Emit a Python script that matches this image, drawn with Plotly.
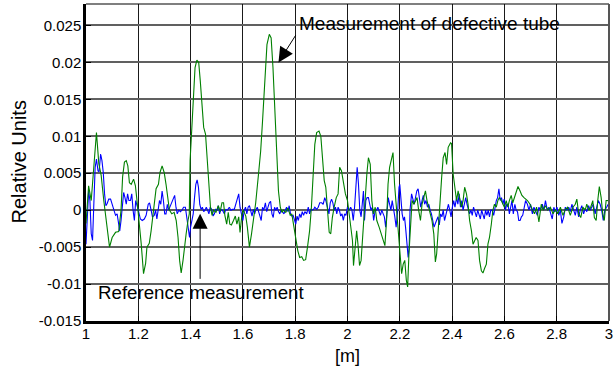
import plotly.graph_objects as go

# ---------------- data ----------------
defect_x = [1.000, 1.010, 1.020, 1.030, 1.040, 1.049, 1.058, 1.068, 1.079, 1.090, 1.100, 1.113, 1.125, 1.134,
            1.140, 1.147, 1.154, 1.160, 1.166, 1.173, 1.182, 1.189, 1.195, 1.204, 1.211, 1.220, 1.228, 1.233,
            1.242, 1.249, 1.258, 1.268, 1.277, 1.283, 1.291, 1.299, 1.306, 1.312, 1.319, 1.328, 1.337, 1.345,
            1.352, 1.358, 1.364, 1.371, 1.377, 1.383, 1.390, 1.395, 1.398, 1.405, 1.411, 1.417, 1.424, 1.431,
            1.437, 1.444, 1.450, 1.457, 1.463, 1.469, 1.476, 1.482, 1.488, 1.497, 1.506, 1.513, 1.520, 1.526,
            1.531, 1.538, 1.544, 1.550, 1.556, 1.564, 1.571, 1.577, 1.584, 1.589, 1.596, 1.602, 1.611, 1.617,
            1.625, 1.633, 1.640, 1.649, 1.660, 1.668, 1.675, 1.683, 1.692, 1.701, 1.708, 1.715, 1.724, 1.730,
            1.736, 1.743, 1.749, 1.755, 1.764, 1.772, 1.781, 1.787, 1.793, 1.802, 1.810, 1.817, 1.825, 1.832,
            1.840, 1.847, 1.855, 1.862, 1.869, 1.875, 1.882, 1.891, 1.898, 1.904, 1.911, 1.917, 1.923, 1.930,
            1.936, 1.942, 1.949, 1.957, 1.964, 1.970, 1.977, 1.983, 1.992, 2.000, 2.007, 2.013, 2.019, 2.023,
            2.030, 2.035, 2.040, 2.046, 2.052, 2.060, 2.068, 2.074, 2.080, 2.087, 2.093, 2.099, 2.106, 2.112,
            2.121, 2.128, 2.136, 2.143, 2.150, 2.155, 2.161, 2.168, 2.174, 2.180, 2.187, 2.193, 2.200, 2.207,
            2.213, 2.219, 2.225, 2.230, 2.235, 2.241, 2.247, 2.254, 2.260, 2.266, 2.272, 2.279, 2.285, 2.292,
            2.298, 2.304, 2.310, 2.317, 2.323, 2.330, 2.336, 2.341, 2.347, 2.354, 2.360, 2.366, 2.373, 2.379,
            2.385, 2.394, 2.398, 2.404, 2.410, 2.417, 2.423, 2.429, 2.436, 2.442, 2.448, 2.455, 2.461, 2.467,
            2.474, 2.480, 2.486, 2.492, 2.499, 2.505, 2.512, 2.518, 2.524, 2.531, 2.537, 2.543, 2.550, 2.556,
            2.562, 2.569, 2.575, 2.581, 2.588, 2.594, 2.600, 2.607, 2.613, 2.619, 2.626, 2.632, 2.638, 2.645,
            2.652, 2.660, 2.667, 2.675, 2.688, 2.698, 2.707, 2.715, 2.723, 2.732, 2.741, 2.748, 2.757, 2.766,
            2.776, 2.786, 2.795, 2.804, 2.814, 2.824, 2.833, 2.842, 2.852, 2.862, 2.871, 2.877, 2.884, 2.892,
            2.900, 2.909, 2.915, 2.923, 2.930, 2.938, 2.944, 2.951, 2.957, 2.963, 2.970, 2.976, 2.982, 2.989,
            2.997, 3.000]
defect_y = [-0.0018, 0.0033, 0.0013, 0.0058, 0.0105, 0.0063, 0.0047, 0.0013, -0.0018, -0.0050, -0.0037, -0.0030, -0.0029, 0.0000,
            0.0045, 0.0065, 0.0067, 0.0060, 0.0037, 0.0035, 0.0042, 0.0033, 0.0013, -0.0018, -0.0045, -0.0086, -0.0072, -0.0050,
            -0.0045, -0.0028, 0.0000, 0.0029, 0.0035, 0.0051, 0.0060, 0.0051, 0.0035, 0.0017, 0.0000, -0.0005, -0.0003, -0.0014,
            -0.0037, -0.0068, -0.0085, -0.0068, -0.0045, -0.0032, -0.0014, -0.0005, 0.0067, 0.0121, 0.0166, 0.0193, 0.0203, 0.0200,
            0.0175, 0.0143, 0.0112, 0.0103, 0.0067, 0.0035, 0.0004, -0.0007, 0.0000, -0.0003, 0.0006, -0.0002, 0.0010, 0.0010,
            -0.0007, -0.0019, -0.0003, -0.0019, -0.0020, -0.0014, -0.0008, -0.0019, -0.0009, -0.0030, -0.0007, 0.0000, -0.0008, -0.0023,
            -0.0050, -0.0032, -0.0014, 0.0010, 0.0050, 0.0080, 0.0120, 0.0170, 0.0224, 0.0238, 0.0233, 0.0193, 0.0116, 0.0067,
            0.0026, 0.0004, -0.0003, 0.0000, -0.0003, 0.0003, -0.0007, -0.0005, -0.0019, -0.0037, -0.0055, -0.0064, -0.0063, -0.0068,
            -0.0067, -0.0050, -0.0028, 0.0004, 0.0053, 0.0089, 0.0105, 0.0107, 0.0100, 0.0067, 0.0040, 0.0031, 0.0004, -0.0030,
            -0.0032, -0.0010, 0.0004, 0.0017, 0.0022, 0.0058, 0.0053, 0.0040, 0.0022, 0.0013, -0.0010, -0.0023, -0.0041, -0.0075,
            -0.0050, -0.0028, -0.0046, -0.0075, -0.0068, -0.0023, 0.0022, 0.0049, 0.0071, 0.0062, 0.0013, -0.0005, 0.0004, -0.0014,
            -0.0023, -0.0030, -0.0041, -0.0048, -0.0010, 0.0035, 0.0058, 0.0067, 0.0078, 0.0035, 0.0004, -0.0023, -0.0050, -0.0086,
            -0.0073, -0.0068, -0.0095, -0.0104, -0.0059, -0.0014, 0.0013, 0.0008, 0.0013, 0.0017, 0.0000, -0.0014, 0.0008, 0.0017,
            0.0026, 0.0013, 0.0004, -0.0005, -0.0014, -0.0032, -0.0070, -0.0059, -0.0023, 0.0013, 0.0044, 0.0071, 0.0078, 0.0062,
            0.0085, 0.0091, 0.0090, 0.0049, 0.0031, 0.0013, 0.0026, 0.0013, 0.0004, 0.0013, 0.0031, 0.0022, 0.0008, -0.0014,
            -0.0028, -0.0046, -0.0041, -0.0037, -0.0041, -0.0068, -0.0082, -0.0085, -0.0079, -0.0073, -0.0046, -0.0037, -0.0019, 0.0000,
            0.0008, 0.0004, 0.0013, 0.0017, 0.0013, 0.0008, 0.0004, 0.0013, 0.0004, 0.0013, 0.0020, 0.0010, 0.0017, 0.0026,
            0.0032, 0.0026, 0.0020, 0.0017, 0.0013, 0.0008, 0.0000, -0.0005, 0.0004, -0.0016, 0.0008, 0.0000, 0.0006, 0.0000,
            0.0004, -0.0005, 0.0001, -0.0005, 0.0004, -0.0007, 0.0001, 0.0004, -0.0007, 0.0004, 0.0008, 0.0015, -0.0005, -0.0010,
            0.0004, 0.0000, 0.0008, 0.0000, 0.0004, 0.0013, -0.0010, -0.0014, 0.0013, 0.0032, 0.0017, -0.0005, -0.0014, 0.0013,
            0.0013, 0.0008]

ref_x = [1.000, 1.005, 1.010, 1.015, 1.020, 1.025, 1.030, 1.035, 1.040, 1.046, 1.050, 1.056, 1.061, 1.066, 1.071, 1.076,
         1.081, 1.087, 1.094, 1.100, 1.106, 1.113, 1.119, 1.123, 1.129, 1.134, 1.139, 1.144, 1.149, 1.154, 1.159, 1.164,
         1.170, 1.175, 1.180, 1.185, 1.190, 1.195, 1.200, 1.208, 1.215, 1.223, 1.230, 1.238, 1.243, 1.249, 1.254, 1.261,
         1.266, 1.271, 1.276, 1.281, 1.286, 1.291, 1.296, 1.301, 1.306, 1.311, 1.316, 1.321, 1.326, 1.333, 1.339, 1.344,
         1.349, 1.355, 1.361, 1.367, 1.373, 1.380, 1.384, 1.390, 1.396, 1.400, 1.405, 1.410, 1.415, 1.420, 1.425, 1.430,
         1.435, 1.440, 1.445, 1.450, 1.455, 1.460, 1.465, 1.470, 1.475, 1.481, 1.486, 1.491, 1.496, 1.501, 1.506, 1.511,
         1.516, 1.522, 1.529, 1.535, 1.541, 1.548, 1.554, 1.560, 1.567, 1.573, 1.579, 1.584, 1.589, 1.594, 1.600, 1.605,
         1.610, 1.615, 1.620, 1.625, 1.630, 1.635, 1.640, 1.645, 1.650, 1.655, 1.660, 1.665, 1.670, 1.675, 1.680, 1.686,
         1.691, 1.696, 1.701, 1.706, 1.711, 1.716, 1.721, 1.726, 1.731, 1.736, 1.741, 1.746, 1.751, 1.757, 1.762, 1.767,
         1.772, 1.777, 1.782, 1.787, 1.792, 1.797, 1.802, 1.807, 1.812, 1.817, 1.822, 1.827, 1.832, 1.837, 1.844, 1.850,
         1.855, 1.860, 1.865, 1.870, 1.875, 1.882, 1.888, 1.894, 1.901, 1.907, 1.913, 1.918, 1.923, 1.929, 1.934, 1.939,
         1.944, 1.949, 1.954, 1.959, 1.964, 1.969, 1.974, 1.979, 1.984, 1.989, 1.994, 2.000, 2.006, 2.012, 2.017, 2.022,
         2.027, 2.032, 2.037, 2.042, 2.047, 2.052, 2.057, 2.061, 2.065, 2.070, 2.075, 2.080, 2.085, 2.090, 2.095, 2.100,
         2.106, 2.111, 2.116, 2.121, 2.126, 2.131, 2.136, 2.141, 2.146, 2.151, 2.156, 2.161, 2.166, 2.171, 2.176, 2.181,
         2.186, 2.192, 2.197, 2.200, 2.204, 2.209, 2.214, 2.218, 2.222, 2.227, 2.232, 2.236, 2.239, 2.245, 2.250, 2.255,
         2.260, 2.265, 2.270, 2.275, 2.280, 2.285, 2.290, 2.295, 2.300, 2.306, 2.311, 2.316, 2.321, 2.326, 2.331, 2.336,
         2.341, 2.346, 2.351, 2.356, 2.361, 2.366, 2.371, 2.376, 2.381, 2.386, 2.391, 2.396, 2.401, 2.406, 2.411, 2.417,
         2.422, 2.427, 2.432, 2.437, 2.442, 2.447, 2.452, 2.457, 2.462, 2.467, 2.472, 2.477, 2.482, 2.488, 2.493, 2.498,
         2.503, 2.508, 2.513, 2.518, 2.523, 2.528, 2.533, 2.538, 2.543, 2.548, 2.553, 2.559, 2.564, 2.569, 2.574, 2.579,
         2.584, 2.589, 2.594, 2.599, 2.604, 2.609, 2.614, 2.619, 2.624, 2.629, 2.634, 2.640, 2.645, 2.650, 2.655, 2.660,
         2.665, 2.670, 2.675, 2.681, 2.688, 2.694, 2.700, 2.707, 2.713, 2.719, 2.726, 2.732, 2.738, 2.745, 2.751, 2.757,
         2.764, 2.770, 2.776, 2.783, 2.789, 2.795, 2.801, 2.808, 2.814, 2.820, 2.827, 2.833, 2.839, 2.846, 2.852, 2.858,
         2.865, 2.871, 2.877, 2.884, 2.890, 2.896, 2.903, 2.909, 2.915, 2.922, 2.928, 2.934, 2.940, 2.947, 2.953, 2.959,
         2.966, 2.972, 2.978, 2.984, 2.991, 2.997, 3.000]
ref_y = [-0.0046, -0.0010, 0.0026, 0.0013, -0.0032, -0.0041, 0.0013, 0.0058, 0.0069, 0.0053, 0.0052, 0.0076, 0.0067, 0.0051, 0.0022, 0.0006,
         0.0009, 0.0015, 0.0015, 0.0008, 0.0000, -0.0007, -0.0005, -0.0014, -0.0028, -0.0014, 0.0008, 0.0024, 0.0017, 0.0008, 0.0022, 0.0013,
         0.0013, 0.0022, 0.0000, -0.0014, 0.0013, 0.0008, 0.0000, -0.0012, -0.0014, -0.0012, -0.0007, 0.0008, 0.0010, 0.0000, -0.0009, -0.0007,
         0.0000, -0.0012, 0.0004, 0.0013, 0.0008, 0.0026, 0.0013, -0.0005, -0.0005, 0.0008, 0.0000, 0.0004, 0.0010, 0.0015, 0.0020, 0.0004,
         -0.0005, 0.0000, -0.0002, 0.0000, 0.0004, 0.0004, -0.0005, -0.0023, -0.0037, -0.0023, -0.0014, -0.0005, 0.0017, 0.0035, 0.0041, 0.0031,
         0.0008, 0.0001, 0.0004, -0.0002, 0.0000, 0.0004, 0.0000, -0.0005, 0.0004, 0.0001, -0.0008, -0.0005, 0.0001, 0.0000, 0.0006, -0.0005,
         0.0001, 0.0000, -0.0005, 0.0001, 0.0000, 0.0004, 0.0000, 0.0001, 0.0001, 0.0008, 0.0017, 0.0022, 0.0004, -0.0005, -0.0014, 0.0000,
         0.0004, -0.0005, 0.0004, 0.0006, 0.0000, -0.0008, 0.0001, -0.0005, 0.0001, 0.0004, -0.0002, -0.0008, -0.0014, 0.0004, 0.0000, 0.0010,
         -0.0002, 0.0004, 0.0010, 0.0012, -0.0005, -0.0010, 0.0004, 0.0000, 0.0004, -0.0002, -0.0005, 0.0000, -0.0002, -0.0005, 0.0000, 0.0004,
         -0.0002, 0.0006, -0.0005, -0.0008, -0.0007, -0.0014, -0.0019, -0.0008, -0.0014, -0.0005, -0.0010, -0.0002, -0.0007, -0.0002, -0.0005, 0.0004,
         -0.0005, 0.0001, 0.0000, 0.0001, 0.0004, 0.0001, 0.0004, 0.0010, 0.0010, 0.0008, 0.0017, 0.0012, 0.0004, -0.0005, 0.0010, 0.0015,
         0.0010, 0.0000, 0.0004, -0.0005, 0.0004, 0.0000, -0.0008, -0.0005, -0.0014, -0.0005, -0.0007, 0.0004, 0.0000, 0.0004, 0.0000, -0.0014,
         0.0004, 0.0040, 0.0058, 0.0035, 0.0000, -0.0009, 0.0013, 0.0026, -0.0014, 0.0013, 0.0017, 0.0017, 0.0008, 0.0000, 0.0004, -0.0014,
         0.0000, 0.0000, 0.0004, -0.0002, -0.0007, 0.0000, -0.0005, -0.0009, -0.0023, 0.0004, 0.0017, 0.0008, 0.0000, 0.0013, 0.0004, -0.0009,
         -0.0023, 0.0000, 0.0031, 0.0035, 0.0017, -0.0005, -0.0014, -0.0009, -0.0023, -0.0041, -0.0064, -0.0050, 0.0000, 0.0022, 0.0013, 0.0008,
         0.0017, 0.0026, 0.0029, 0.0013, 0.0004, 0.0013, 0.0020, 0.0008, 0.0013, 0.0004, 0.0008, 0.0000, -0.0005, -0.0014, -0.0023, -0.0018,
         -0.0014, -0.0009, -0.0020, -0.0005, -0.0009, 0.0000, -0.0014, -0.0005, 0.0004, 0.0008, 0.0000, -0.0009, 0.0004, 0.0013, 0.0004, 0.0017,
         0.0008, 0.0022, 0.0004, 0.0013, 0.0000, 0.0008, 0.0017, 0.0008, 0.0000, -0.0005, 0.0000, -0.0007, 0.0004, -0.0005, -0.0009, 0.0000,
         -0.0005, -0.0012, 0.0000, -0.0005, -0.0012, 0.0000, -0.0007, 0.0000, -0.0009, 0.0000, 0.0000, -0.0007, 0.0004, 0.0013, 0.0017, 0.0029,
         0.0013, 0.0017, 0.0008, 0.0015, 0.0000, 0.0008, 0.0008, -0.0005, 0.0004, 0.0013, -0.0005, 0.0008, 0.0000, -0.0002, -0.0014, -0.0014,
         -0.0009, -0.0007, 0.0002, 0.0013, 0.0008, 0.0000, 0.0008, -0.0005, 0.0004, -0.0002, -0.0007, 0.0004, 0.0000, 0.0008, 0.0000, 0.0013,
         0.0000, 0.0004, -0.0005, -0.0012, 0.0004, -0.0002, 0.0004, -0.0007, 0.0000, -0.0018, -0.0009, 0.0004, 0.0000, 0.0004, -0.0002, 0.0008,
         0.0000, -0.0007, 0.0004, -0.0009, 0.0000, 0.0006, -0.0005, 0.0002, -0.0002, 0.0006, 0.0000, 0.0004, 0.0008, -0.0005, 0.0004, 0.0013,
         0.0008, 0.0000, -0.0014, 0.0000, 0.0004, 0.0008, 0.0006]

x_tick_vals = [1, 1.2, 1.4, 1.6, 1.8, 2, 2.2, 2.4, 2.6, 2.8, 3]
x_tick_text = ["1", "1.2", "1.4", "1.6", "1.8", "2", "2.2", "2.4", "2.6", "2.8", "3"]
y_tick_vals = [0.025, 0.02, 0.015, 0.01, 0.005, 0, -0.005, -0.01, -0.015]
y_tick_text = ["0.025", "0.02", "0.015", "0.01", "0.005", "0", "-0.005", "-0.01", "-0.015"]

x_title = "[m]"
y_title = "Relative Units"
label_defect = "Measurement of defective tube"
label_ref = "Reference measurement"

# ---------------- figure ----------------
FONT = "Liberation Sans, Arial, Helvetica, sans-serif"

fig = go.Figure()
fig.add_trace(go.Scatter(x=ref_x, y=ref_y, mode="lines", line=dict(color="#0000ff", width=1.1),
                         showlegend=False, hoverinfo="skip"))
fig.add_trace(go.Scatter(x=defect_x, y=defect_y, mode="lines", line=dict(color="#008000", width=1.1),
                         showlegend=False, hoverinfo="skip"))

XR = [1, 3]
YR = [-0.015, 0.0279]

fig.update_layout(
    width=616, height=371,
    margin=dict(l=86, r=3, t=4, b=50),
    paper_bgcolor="white", plot_bgcolor="white",
    font=dict(family=FONT, size=15, color="black"),
    xaxis=dict(range=XR, tickvals=x_tick_vals, ticktext=x_tick_text,
               showgrid=True, gridcolor="#1a1a1a", gridwidth=1,
               showline=True, linecolor="black", linewidth=2.5,
               ticks="inside", ticklen=5, tickcolor="black",
               zeroline=False, tickfont=dict(size=15), ticklabelstandoff=-3,
               ticklabeloverflow="allow"),
    yaxis=dict(range=YR, tickvals=y_tick_vals, ticktext=y_tick_text,
               showgrid=True, gridcolor="#606060", gridwidth=1.5,
               showline=True, linecolor="black", linewidth=2.5,
               ticks="inside", ticklen=5, tickcolor="black",
               zeroline=False, tickfont=dict(size=15), ticklabelstandoff=-1,
               ticklabeloverflow="allow"),
)

# top and right frame lines
fig.add_shape(type="line", xref="paper", yref="paper", x0=0, x1=1, y0=1, y1=1,
              line=dict(color="black", width=1.2))
fig.add_shape(type="line", xref="paper", yref="paper", x0=1, x1=1, y0=0, y1=1,
              line=dict(color="#555555", width=2))

# axis titles
fig.add_annotation(text=y_title, xref="paper", yref="paper", x=0, y=0.5,
                   xanchor="center", yanchor="middle", xshift=-68, textangle=-90,
                   showarrow=False, font=dict(size=20, family=FONT))
fig.add_annotation(text=x_title, xref="x", yref="paper", x=2, y=0,
                   xanchor="center", yanchor="middle", yshift=-35,
                   showarrow=False, font=dict(size=18, family=FONT))

# callouts
fig.add_annotation(text=label_defect, xref="x", yref="y", x=1.808, y=0.0253,
                   xanchor="left", yanchor="middle", showarrow=False,
                   font=dict(size=19, family=FONT))
fig.add_annotation(text="", xref="x", yref="y", x=1.736, y=0.0200,
                   axref="x", ayref="y", ax=1.806, ay=0.0239,
                   showarrow=True, arrowhead=2, arrowsize=3, arrowwidth=1, arrowcolor="black")
fig.add_annotation(text=label_ref, xref="x", yref="y", x=1.040, y=-0.0112,
                   xanchor="left", yanchor="middle", showarrow=False,
                   font=dict(size=18.7, family=FONT))
fig.add_annotation(text="", xref="x", yref="y", x=1.4364, y=-0.0005,
                   axref="x", ayref="y", ax=1.4364, ay=-0.0095,
                   showarrow=True, arrowhead=2, arrowsize=3, arrowwidth=1, arrowcolor="black")

fig.write_html("out.html")
